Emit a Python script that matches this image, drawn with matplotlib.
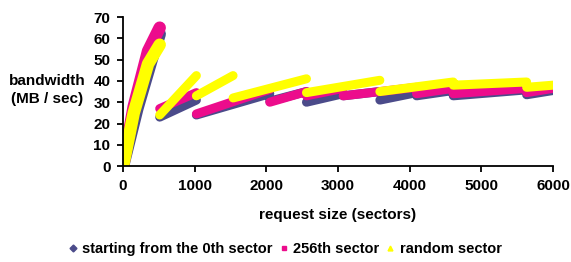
import numpy as np
import matplotlib
matplotlib.use('Agg')
import matplotlib.pyplot as plt
from matplotlib.lines import Line2D

plt.rcParams['font.family'] = ['Liberation Sans', 'DejaVu Sans']
plt.rcParams['font.weight'] = 'bold'

nan = np.nan

# request size (sectors) / bandwidth (MB/sec), NaN separates the sawtooth pieces
blue_x = [0, 200, 400, 512, nan, 512, 1024, nan, 1024, 2048, nan, 2048, 2560, nan,
          2560, 3072, nan, 3072, 3584, nan, 3584, 4096, nan, 4096, 4608, nan,
          4608, 5632, nan, 5632, 6000]
blue_y = [0, 27, 50, 62, nan, 23, 31, nan, 24, 34, nan, 30.5, 35, nan,
          30, 34, nan, 33, 35, nan, 31, 34.5, nan, 33, 35.5, nan,
          33, 35.8, nan, 33.5, 35.5]

pink_x = [0, 150, 350, 512, nan, 512, 1024, nan, 1024, 2048, nan, 2048, 2560, nan,
          2560, 3072, nan, 3072, 4096, nan, 4096, 4608, nan,
          4608, 5632, nan, 5632, 6000]
pink_y = [0, 28, 54, 65, nan, 27, 34.5, nan, 24.5, 36, nan, 30, 35, nan,
          33, 36.5, nan, 33, 37, nan, 34, 36.5, nan,
          34, 36.5, nan, 34.5, 36.5]

yellow_x = [0, 150, 350, 512, nan, 512, 1024, nan, 1024, 1536, nan, 1536, 2560, nan,
            2560, 3584, nan, 3584, 4608, nan, 4608, 5632, nan, 5632, 6000]
yellow_y = [0, 25, 48, 57, nan, 24, 42.5, nan, 33, 42.5, nan, 32, 41, nan,
            34.5, 40.3, nan, 35, 39.5, nan, 38, 39.5, nan, 37, 38]

labels = ['starting from the 0th sector', '256th sector', 'random sector']
colors = ['#4b4b8a', '#ec0c8c', '#ffff00']
markers = ['D', 's', '^']

fig = plt.figure(figsize=(5.71, 2.62), dpi=100)
ax = fig.add_axes([0.2154, 0.366, 0.7531, 0.569])

for xs, ys, c in [(blue_x, blue_y, colors[0]), (pink_x, pink_y, colors[1]),
                  (yellow_x, yellow_y, colors[2])]:
    cut = ys.index(nan)
    # first (steep) piece is a wider cloud of points in the original
    ax.plot(xs[:cut], ys[:cut], color=c, lw=9, solid_capstyle='round',
            solid_joinstyle='round')
    ax.plot(xs[cut:], ys[cut:], color=c, lw=6.5, solid_capstyle='round',
            solid_joinstyle='round')

ax.set_xlim(0, 6000)
ax.set_ylim(0, 70)
ax.set_xticks(range(0, 6001, 1000))
ax.set_yticks(range(0, 71, 10))
for s in ['top', 'right']:
    ax.spines[s].set_visible(False)
for s in ['left', 'bottom']:
    ax.spines[s].set_linewidth(1.3)
ax.tick_params(direction='out', length=4, width=1.3, labelsize=11, pad=5)
for t in ax.get_xticklabels() + ax.get_yticklabels():
    t.set_fontweight('bold')

fig.text(0.082, 0.656, 'bandwidth\n(MB / sec)', ha='center', va='center',
         fontsize=11, fontweight='bold', linespacing=1.3)
fig.text(0.592, 0.179, 'request size (sectors)', ha='center', va='center',
         fontsize=11, fontweight='bold')

handles = [Line2D([], [], ls='none', marker=m, color=c, markersize=3.5)
           for m, c in zip(markers, colors)]
fig.legend(handles, labels, loc='center', bbox_to_anchor=(0.5, 0.05), ncol=3,
           frameon=False, handlelength=0.5, handletextpad=0.4,
           columnspacing=0.5, prop={'weight': 'bold', 'size': 10.5})

plt.savefig('out.png', dpi=100)
